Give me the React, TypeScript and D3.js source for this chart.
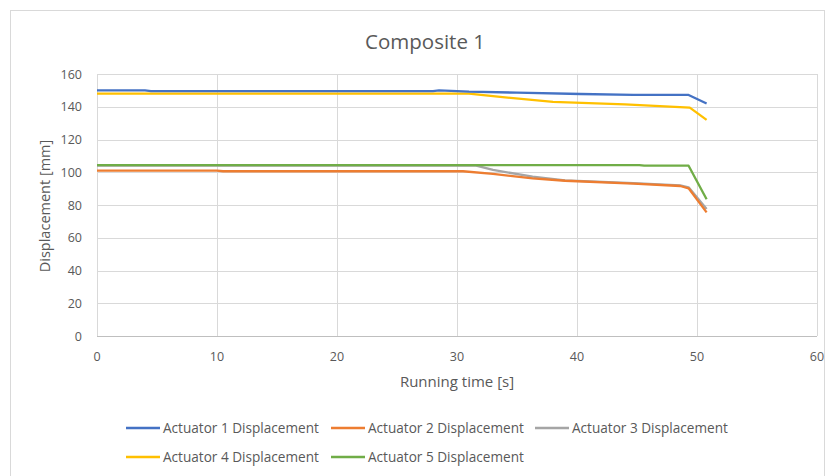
import React from "react";
import * as d3 from "d3";

const title = "Composite 1";
const xLabel = "Running time [s]";
const yLabel = "Displacement [mm]";
const xTicks = [0, 10, 20, 30, 40, 50, 60];
const yTicks = [0, 20, 40, 60, 80, 100, 120, 140, 160];

const seriesNames = [
  "Actuator 1 Displacement",
  "Actuator 2 Displacement",
  "Actuator 3 Displacement",
  "Actuator 4 Displacement",
  "Actuator 5 Displacement",
];
const seriesColors = ["#4472C4", "#ED7D31", "#A5A5A5", "#FFC000", "#70AD47"];

const a1Time = [0, 4, 4.5, 28, 28.5, 31, 35, 40.3, 44.7, 49.3, 50.8];
const a1Vals = [150, 150, 149.6, 149.6, 150, 149.2, 148.6, 147.8, 147.3, 147.2, 142];
const a2Time = [0, 10, 10.5, 30.5, 33, 36.3, 39, 44.7, 48.6, 49.3, 50.8];
const a2Vals = [101, 101, 100.6, 100.6, 99, 96.3, 94.8, 93.1, 91.6, 90.2, 75.5];
const a3Time = [0, 31.6, 33, 36.3, 39, 44.7, 48.6, 49.3, 50.8];
const a3Vals = [104, 104, 101.4, 97.3, 95, 93.3, 92, 90.8, 77.5];
const a4Time = [0, 31, 33.6, 38, 44, 49.4, 50.8];
const a4Vals = [148, 148, 146, 143, 141.5, 139.5, 132];
const a5Time = [0, 45.2, 45.6, 49.3, 50.8];
const a5Vals = [104.4, 104.4, 104, 104, 83.5];

const seriesTimes = [a1Time, a2Time, a3Time, a4Time, a5Time];
const seriesValues = [a1Vals, a2Vals, a3Vals, a4Vals, a5Vals];
const drawOrder = [2, 1, 4, 3, 0];

const FONT = "'Open Sans', 'Liberation Sans', sans-serif";
const TXT = "#595959";

export default function App() {
  const W = 826, H = 476;
  const x = d3.scaleLinear().domain([0, 60]).range([97, 817]);
  const y = d3.scaleLinear().domain([0, 160]).range([336, 74]);
  const line = d3
    .line<[number, number]>()
    .x((d) => x(d[0]))
    .y((d) => y(d[1]));

  const legendItems = [
    { i: 0, lx: 126, ly: 428 },
    { i: 1, lx: 331, ly: 428 },
    { i: 2, lx: 535, ly: 428 },
    { i: 3, lx: 126, ly: 457 },
    { i: 4, lx: 331, ly: 457 },
  ];

  return (
    <svg
      width={W}
      height={H}
      style={{ position: "absolute", left: 0, top: 0, background: "#fff" }}
      fontFamily={FONT}
    >
      <rect x={0} y={0} width={W} height={H} fill="#fff" />
      <rect x={10.5} y={10.5} width={814} height={470} fill="#fff" stroke="#d9d9d9" />
      <text x={425} y={49} textAnchor="middle" fontSize={20.5} fill={TXT}>
        {title}
      </text>
      {yTicks.map((t) => (
        <g key={"y" + t}>
          <line x1={97} x2={817} y1={Math.round(y(t)) + 0.5} y2={Math.round(y(t)) + 0.5} stroke="#d9d9d9" />
          <text x={82} y={y(t) + 4.5} textAnchor="end" fontSize={12.5} fill={TXT}>
            {t}
          </text>
        </g>
      ))}
      {xTicks.map((t) => (
        <g key={"x" + t}>
          <line x1={Math.round(x(t)) + 0.5} x2={Math.round(x(t)) + 0.5} y1={74} y2={336} stroke="#d9d9d9" />
          <text x={x(t)} y={361} textAnchor="middle" fontSize={12.5} fill={TXT}>
            {t}
          </text>
        </g>
      ))}
      <line x1={97} x2={817} y1={336.5} y2={336.5} stroke="#bfbfbf" />
      {drawOrder.map((i) => (
        <path
          key={"s" + i}
          d={line(seriesTimes[i].map((t, k) => [t, seriesValues[i][k]] as [number, number])) || ""}
          fill="none"
          stroke={seriesColors[i]}
          strokeWidth={2.3}
          strokeLinejoin="round"
        />
      ))}
      <text x={457} y={387} textAnchor="middle" fontSize={15} fill={TXT}>
        {xLabel}
      </text>
      <text
        transform={`translate(50,206) rotate(-90)`}
        textAnchor="middle"
        fontSize={14.5}
        fill={TXT}
      >
        {yLabel}
      </text>
      {legendItems.map(({ i, lx, ly }) => (
        <g key={"l" + i}>
          <line x1={lx} x2={lx + 34} y1={ly} y2={ly} stroke={seriesColors[i]} strokeWidth={2.3} />
          <text x={lx + 37} y={ly + 5} fontSize={13.6} fill={TXT}>
            {seriesNames[i]}
          </text>
        </g>
      ))}
    </svg>
  );
}
